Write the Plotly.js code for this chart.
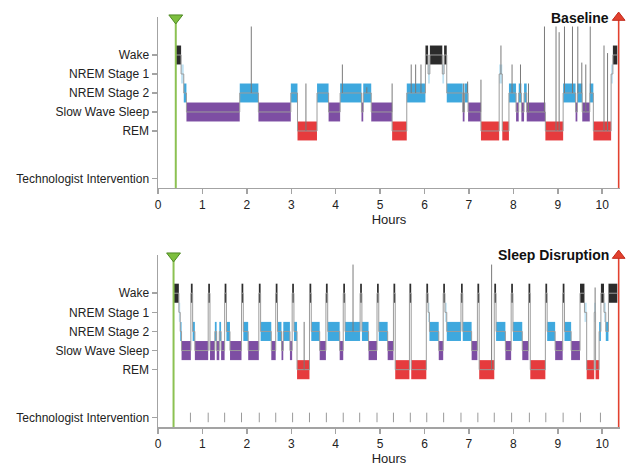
<!DOCTYPE html>
<html><head><meta charset="utf-8">
<script src="https://cdn.plot.ly/plotly-3.0.1.min.js"></script>
<style>html,body{margin:0;padding:0;background:#fff}#chart{width:628px;height:467px}</style>
</head><body><div id="chart"></div>
<script>
// ---- data ----
const stageNames = ['Wake','NREM Stage 1','NREM Stage 2','Slow Wave Sleep','REM','Technologist Intervention'];
const stageLevels = [5,4,3,2,1,-1.5];
const xTicks = [0,1,2,3,4,5,6,7,8,9,10];

// [start hour, end hour, stage level] (5 Wake, 4 N1, 3 N2, 2 SWS, 1 REM)
const baselineSegments = [
  [0.40,0.52,5],[0.52,0.58,4],[0.58,0.64,3],[0.64,1.84,2],[1.84,2.26,3],[2.26,2.99,2],
  [2.99,3.14,3],[3.14,3.58,1],[3.58,3.84,3],[3.84,4.10,2],[4.10,4.58,3],[4.58,4.62,2],
  [4.62,4.80,3],[4.80,5.27,2],[5.27,5.60,1],[5.60,6.02,3],[6.02,6.08,5],[6.08,6.12,4],
  [6.12,6.40,5],[6.40,6.44,4],[6.44,6.50,5],[6.50,6.86,3],[6.86,6.90,2],[6.90,6.98,3],
  [6.98,7.27,2],[7.27,7.68,1],[7.68,7.75,4],[7.75,7.90,1],[7.90,8.06,3],[8.06,8.12,2],
  [8.12,8.18,3],[8.18,8.24,2],[8.24,8.30,3],[8.30,8.72,2],[8.72,9.12,1],[9.12,9.40,3],
  [9.40,9.44,2],[9.44,9.55,3],[9.55,9.72,2],[9.72,9.80,3],[9.80,10.20,1],[10.20,10.24,4],
  [10.24,10.34,5]
];
// [hour, top level] brief arousal spikes
const baselineSpikes = [
  [2.10,6.5],[3.33,3.5],[4.15,4.5],[4.70,3.3],[5.27,3.5],[5.70,4.5],[5.80,4.5],[5.92,4.5],
  [6.88,3.5],[6.97,3.6],[7.27,3.7],[7.72,5.5],[7.97,4.5],[8.16,4.5],[8.34,3.5],[8.70,6.5],
  [8.96,6.5],[9.03,6.2],[9.15,6.5],[9.33,6.5],[9.45,6.5],[9.54,4.6],[9.63,4.5],[9.73,6.5],
  [10.04,5.5],[10.12,5.1]
];

const disruptionSegments = [
  [0.35,0.47,5],[0.47,0.50,4],[0.50,0.53,3],[0.53,0.74,2],[0.74,0.78,5],[0.78,0.83,3],
  [0.83,1.13,2],[1.13,1.17,5],[1.17,1.28,2],[1.28,1.32,3],[1.32,1.38,2],[1.38,1.42,3],
  [1.42,1.50,2],[1.50,1.54,5],[1.54,1.62,3],[1.62,1.88,2],[1.88,1.92,5],[1.92,2.03,3],
  [2.03,2.27,2],[2.27,2.31,5],[2.31,2.55,3],[2.55,2.65,2],[2.65,2.69,5],[2.69,2.78,3],
  [2.78,2.82,2],[2.82,2.97,3],[2.97,3.02,2],[3.02,3.06,5],[3.06,3.13,3],[3.13,3.41,1],
  [3.41,3.45,5],[3.45,3.64,3],[3.64,3.78,2],[3.78,3.82,5],[3.82,4.09,3],[4.09,4.17,2],
  [4.17,4.21,5],[4.21,4.55,3],[4.55,4.59,5],[4.59,4.74,3],[4.74,4.93,2],[4.93,4.97,5],
  [4.97,5.17,3],[5.17,5.30,2],[5.30,5.34,5],[5.34,5.66,1],[5.66,5.70,5],[5.70,6.04,1],
  [6.04,6.08,5],[6.08,6.11,4],[6.11,6.32,3],[6.32,6.42,2],[6.42,6.46,5],[6.46,6.50,4],
  [6.50,6.82,3],[6.82,6.86,5],[6.86,7.06,3],[7.06,7.19,2],[7.19,7.23,5],[7.23,7.57,1],
  [7.57,7.61,5],[7.61,7.82,3],[7.82,7.95,2],[7.95,7.99,5],[7.99,8.20,3],[8.20,8.34,2],
  [8.34,8.38,5],[8.38,8.72,1],[8.72,8.76,5],[8.76,8.94,3],[8.94,9.11,2],[9.11,9.15,5],
  [9.15,9.30,3],[9.30,9.50,2],[9.50,9.60,5],[9.60,9.65,4],[9.65,9.82,1],[9.82,9.85,4],
  [9.85,9.93,1],[9.93,9.97,3],[9.97,10.04,5],[10.04,10.08,4],[10.08,10.14,3],[10.14,10.34,5]
];
const disruptionSpikes = [[3.29,3.5],[4.39,6.5],[7.51,6.5],[9.84,5.3]];
const interventionTimes = [0.73,1.13,1.50,1.88,2.28,2.65,3.03,3.41,3.79,4.17,4.54,4.93,5.30,
  5.68,6.05,6.43,6.82,7.20,7.57,7.96,8.36,8.73,9.12,9.51,9.96];

const baselineLights = [0.40, 10.37];
const disruptionLights = [0.35, 10.37];
const panelTitles = ['Baseline','Sleep Disruption'];

// ---- styles ----
const stageColors = {5:'#2b2b2b',4:'#b4def2',3:'#3ea8de',2:'#7d4ea3',1:'#e63b3d'};
const axisColor = '#a3a3a3';
const fontFam = 'Liberation Sans, Arial, Helvetica, sans-serif';

function panelTraces(segs, spikes, lights, xa, ya, interventions){
  const tr = [];
  const sx = [], sy = [];
  segs.forEach(s => { sx.push(s[0], s[1]); sy.push(s[2], s[2]); });
  tr.push({type:'scatter',mode:'lines',x:sx,y:sy,xaxis:xa,yaxis:ya,
    line:{color:'#9c9c9c',width:1},hoverinfo:'skip',showlegend:false});
  [5,4,3,2,1].forEach(st => {
    const ss = segs.filter(s => s[2] === st);
    tr.push({type:'bar',x:ss.map(s=>(s[0]+s[1])/2),y:ss.map(()=>1),base:ss.map(s=>s[2]-0.5),
      width:ss.map(s=>s[1]-s[0]),xaxis:xa,yaxis:ya,
      marker:{color:stageColors[st],opacity: st===4?0.85:1,line:{width:0.3,color:'rgba(255,255,255,0.2)'}},
      hoverinfo:'skip',showlegend:false});
  });
  const px = [], py = [];
  spikes.forEach(p => {
    const seg = segs.find(s => p[0] >= s[0] && p[0] <= s[1]);
    const b = seg ? seg[2] : 3;
    px.push(p[0], p[0], null); py.push(b, p[1], null);
  });
  tr.push({type:'scatter',mode:'lines',x:px,y:py,xaxis:xa,yaxis:ya,
    line:{color:'#7a7a7a',width:1},hoverinfo:'skip',showlegend:false});
  if (interventions){
    const ix = [], iy = [];
    interventions.forEach(t => { ix.push(t,t,null); iy.push(-1.75,-1.25,null); });
    tr.push({type:'scatter',mode:'lines',x:ix,y:iy,xaxis:xa,yaxis:ya,
      line:{color:'#9a9a9a',width:1},hoverinfo:'skip',showlegend:false});
  }
  tr.push({type:'scatter',mode:'lines',x:[lights[0],lights[0]],y:[-2,7],xaxis:xa,yaxis:ya,
    line:{color:'#8cc152',width:2},hoverinfo:'skip',showlegend:false});
  tr.push({type:'scatter',mode:'lines',x:[lights[1],lights[1]],y:[-2,7],xaxis:xa,yaxis:ya,
    line:{color:'#e2412f',width:1.6},hoverinfo:'skip',showlegend:false});
  tr.push({type:'scatter',mode:'markers',x:[lights[0]],y:[6.95],xaxis:xa,yaxis:ya,cliponaxis:false,
    marker:{symbol:'triangle-down',size:12,color:'#7dbf3f',line:{color:'#4f8a25',width:1}},
    hoverinfo:'skip',showlegend:false});
  tr.push({type:'scatter',mode:'markers',x:[lights[1]],y:[6.97],xaxis:xa,yaxis:ya,cliponaxis:false,
    marker:{symbol:'triangle-up',size:11,color:'#e2412f',line:{color:'#c22a1c',width:1}},
    hoverinfo:'skip',showlegend:false});
  return tr;
}

const data = [
  ...panelTraces(baselineSegments, baselineSpikes, baselineLights, 'x', 'y', null),
  ...panelTraces(disruptionSegments, disruptionSpikes, disruptionLights, 'x2', 'y2', interventionTimes)
];

function xAxis(anchor){
  return {anchor:anchor,domain:[0,1],range:[0,10.4],tickvals:xTicks,ticks:'outside',ticklen:5,
    tickcolor:axisColor,tickwidth:1.5,showline:true,linecolor:axisColor,linewidth:1.5,
    showgrid:false,zeroline:false,tickfont:{size:12,color:'#222',family:fontFam},
    title:{text:'Hours',font:{size:13,color:'#222',family:fontFam},standoff:2}};
}
function yAxis(anchor, dom){
  return {anchor:anchor,domain:dom,range:[-2,7],tickvals:stageLevels,ticktext:stageNames,
    ticks:'outside',ticklen:5,tickcolor:axisColor,tickwidth:1.5,showline:true,linecolor:axisColor,
    linewidth:1.5,showgrid:false,zeroline:false,tickfont:{size:12,color:'#222',family:fontFam}};
}

const layout = {
  width:628,height:467,margin:{l:158,r:8,t:17,b:40},
  paper_bgcolor:'#fff',plot_bgcolor:'#fff',barmode:'overlay',bargap:0,showlegend:false,
  xaxis:xAxis('y'),yaxis:yAxis('x',[0.583,1]),
  xaxis2:xAxis('y2'),yaxis2:yAxis('x2',[0,0.4195]),
  annotations:[
    {text:'<b>'+panelTitles[0]+'</b>',xref:'x',yref:'y',x:10.2,y:6.95,xanchor:'right',yanchor:'middle',
     showarrow:false,font:{size:14,color:'#111',family:fontFam}},
    {text:'<b>'+panelTitles[1]+'</b>',xref:'x2',yref:'y2',x:10.2,y:7.0,xanchor:'right',yanchor:'middle',
     showarrow:false,font:{size:14,color:'#111',family:fontFam}}
  ]
};

Plotly.newPlot('chart', data, layout, {staticPlot:true,displayModeBar:false});
</script></body></html>
